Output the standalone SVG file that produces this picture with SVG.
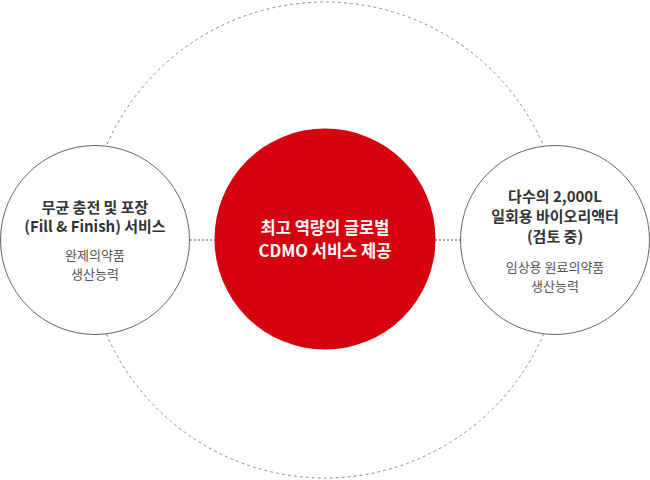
<svg xmlns="http://www.w3.org/2000/svg" width="650" height="480" viewBox="0 0 650 480">
<style>
.orbit{fill:none;stroke:#8a8a8a;stroke-width:1;stroke-dasharray:3 3}
.link{fill:none;stroke:#555;stroke-width:1;stroke-dasharray:2 2}
.side{fill:#fff;stroke:#666;stroke-width:1}
.core{fill:#d7000f}
text{font-family:"Noto Sans CJK KR","Noto Sans",sans-serif;text-anchor:middle}
.t{font-size:15px;font-weight:700;fill:#333}
.s{font-size:13px;font-weight:400;fill:#555}
.w{font-size:16.5px;font-weight:700;fill:#fff}
</style>
<rect width="650" height="480" fill="#fff"/>
<circle class="orbit" cx="325" cy="240" r="238"/>
<g id="connectors">
<line class="link" x1="190" y1="240" x2="215" y2="240"/>
<line class="link" x1="435" y1="240" x2="460" y2="240"/>
</g>
<g id="node-left">
<circle class="side" cx="95" cy="240" r="94.5"/>
<text class="t" x="95" y="213">무균 충전 및 포장</text>
<text class="t" x="95" y="232">(Fill &amp; Finish) 서비스</text>
<text class="s" x="95" y="260">완제의약품</text>
<text class="s" x="95" y="279">생산능력</text>
</g>
<g id="node-center">
<circle class="core" cx="325" cy="239" r="110.5"/>
<text class="w" x="325" y="234">최고 역량의 글로벌</text>
<text class="w" x="325" y="257">CDMO 서비스 제공</text>
</g>
<g id="node-right">
<circle class="side" cx="555" cy="240" r="94.5"/>
<text class="t" x="555" y="202">다수의 2,000L</text>
<text class="t" x="555" y="222">일회용 바이오리액터</text>
<text class="t" x="555" y="242">(검토 중)</text>
<text class="s" x="555" y="272">임상용 원료의약품</text>
<text class="s" x="555" y="291">생산능력</text>
</g>
</svg>
